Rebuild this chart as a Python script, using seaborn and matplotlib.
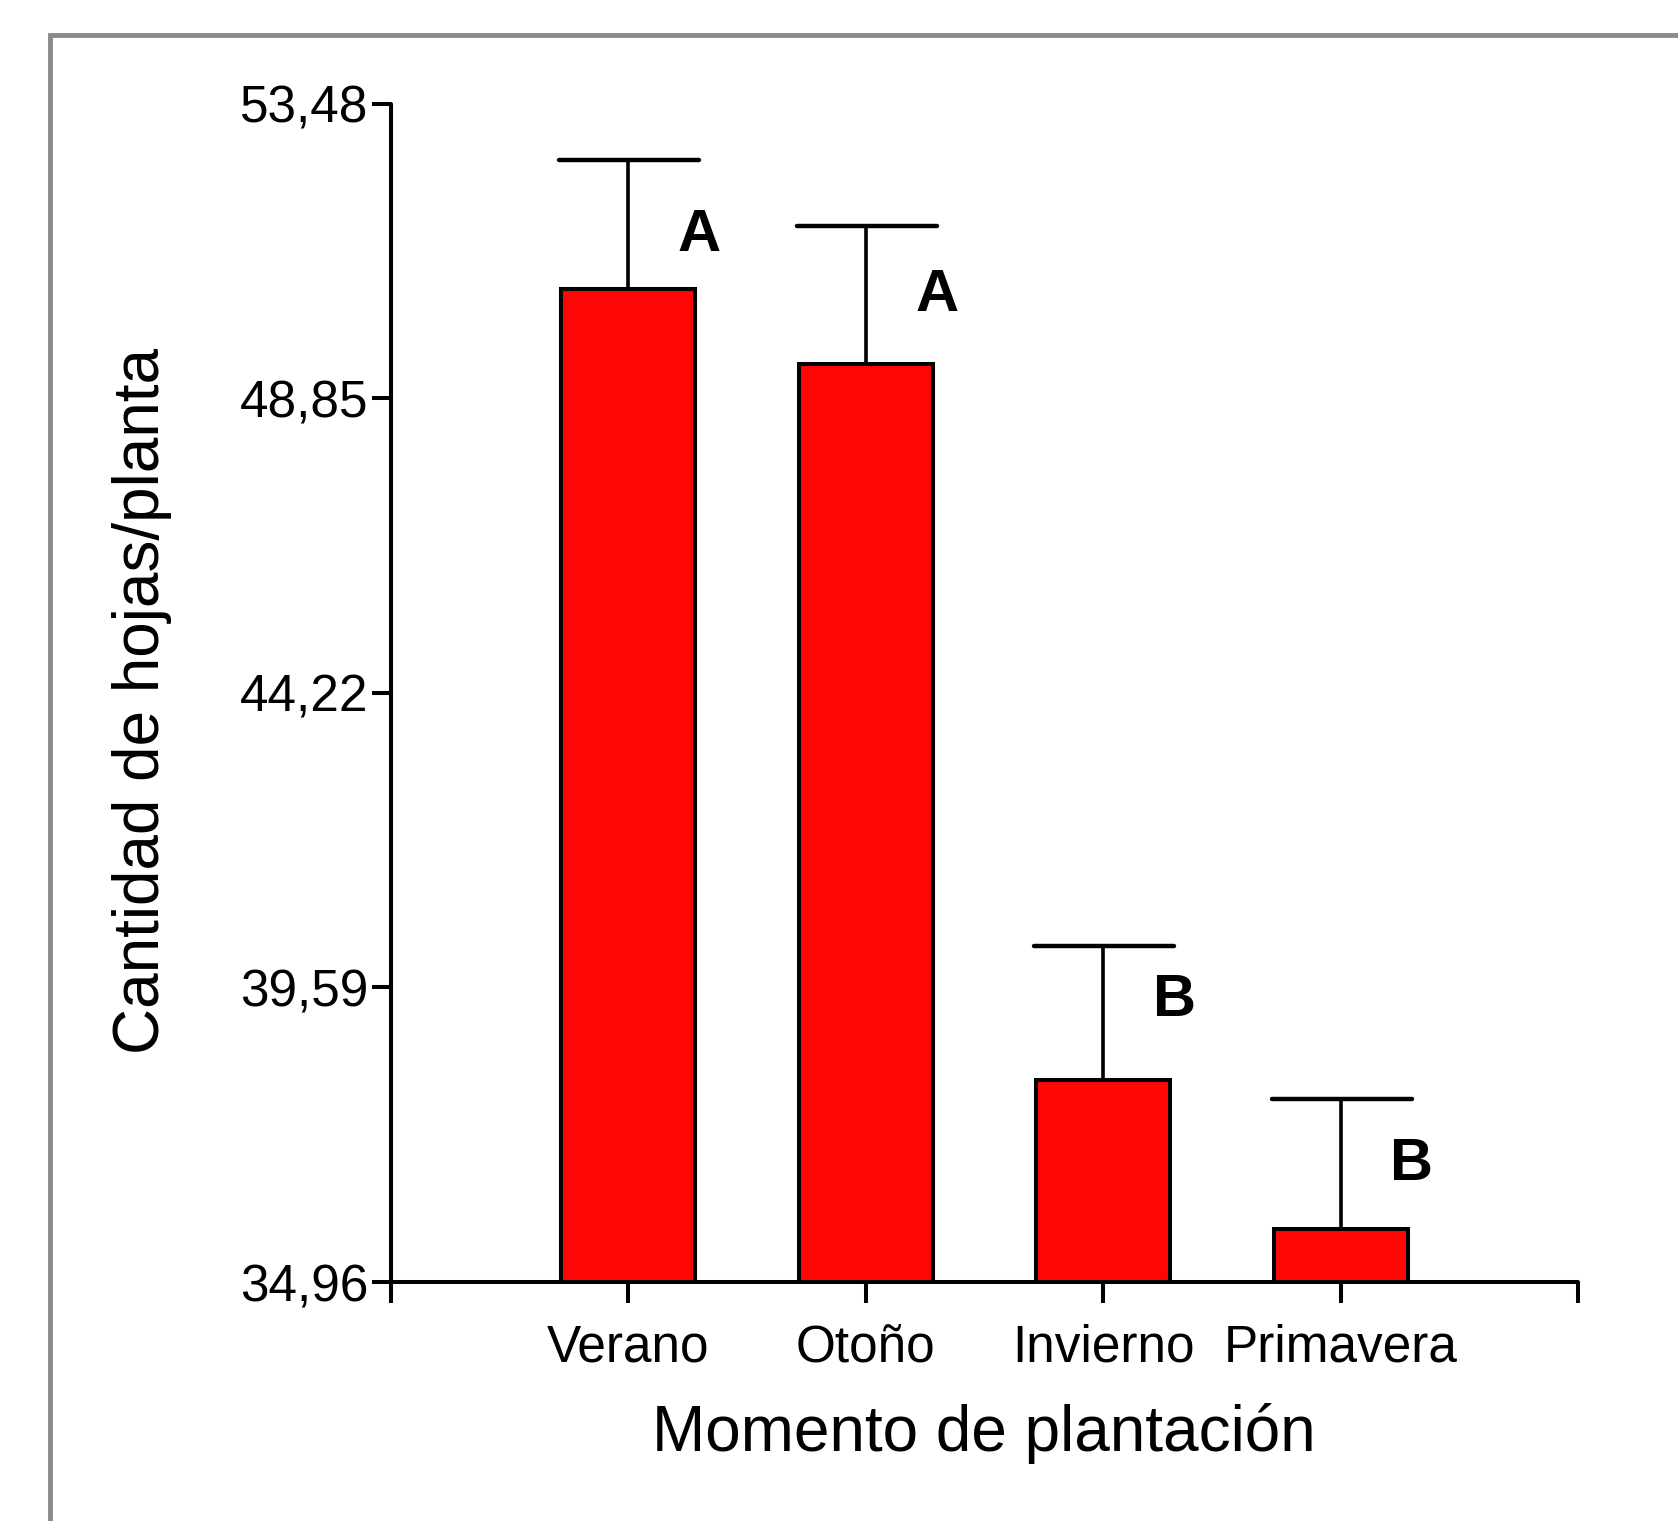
"""Bar chart: number of leaves per plant by planting season."""

import matplotlib

matplotlib.use("Agg")
import matplotlib.pyplot as plt  # noqa: E402
import seaborn as sns  # noqa: E402
from matplotlib.patches import Rectangle  # noqa: E402

sns.set_style("ticks")
plt.rcParams["font.family"] = ["Liberation Sans", "DejaVu Sans"]
plt.rcParams["text.color"] = "black"
plt.rcParams["xtick.color"] = "black"
plt.rcParams["ytick.color"] = "black"

SEASONS = ["Verano", "Otoño", "Invierno", "Primavera"]
MEANS = [50.57, 49.39, 38.14, 35.80]
ERRORS = [2.02, 2.17, 2.10, 2.04]
LETTERS = ["A", "A", "B", "B"]
LETTER_Y = [51.41, 50.47, 39.38, 36.81]
Y_TICKS = [34.96, 39.59, 44.22, 48.85, 53.48]

BAR_COLOR = "#fe0606"
LW = 2.9

fig = plt.figure(figsize=(16.78, 15.21), dpi=100)
ax = fig.add_axes([0.2328, 0.1571, 0.7077, 0.7747])

sns.barplot(
    x=SEASONS,
    y=MEANS,
    color=BAR_COLOR,
    saturation=1,
    edgecolor="black",
    linewidth=LW,
    width=0.565,
    ax=ax,
)

xs = list(range(len(SEASONS)))
tops = [m + e for m, e in zip(MEANS, ERRORS)]
ax.vlines(xs, MEANS, tops, color="black", linewidth=LW * 0.9, zorder=3)
caps = ax.hlines(
    tops,
    [x - 0.29 for x in xs],
    [x + 0.30 for x in xs],
    color="black",
    linewidth=LW * 1.1,
    zorder=3,
)
caps.set_capstyle("round")

for x, letter, ly in zip(xs, LETTERS, LETTER_Y):
    ax.text(x + 0.30, ly, letter, ha="center", va="center",
            fontsize=43, fontweight="bold", color="black")

ax.set_xlim(-1, 4)
ax.set_ylim(Y_TICKS[0], Y_TICKS[-1])
ax.set_xticks([-1, 0, 1, 2, 3, 4])
ax.set_xticklabels([""] + SEASONS + [""])
ax.set_yticks(Y_TICKS)
ax.set_yticklabels([f"{v:.2f}".replace(".", ",") for v in Y_TICKS])

ax.tick_params(axis="x", length=15, width=LW, pad=15, labelsize=37,
               color="black", labelcolor="black")
ax.tick_params(axis="y", length=14, width=LW, pad=2, labelsize=37,
               color="black", labelcolor="black")

for side in ["top", "right"]:
    ax.spines[side].set_visible(False)
for side in ["left", "bottom"]:
    ax.spines[side].set_linewidth(LW)
    ax.spines[side].set_color("black")
    ax.spines[side].set_capstyle("round")

ax.set_xlabel("")
ax.set_ylabel("")
fig.text(0.5865, 1 - 1434 / 1521, "Momento de plantación",
         ha="center", va="center", fontsize=46, color="black")
fig.text(142 / 1678, 1 - 701 / 1521, "Cantidad de hojas/planta",
         ha="center", va="center", rotation=90, fontsize=46, color="black")

# grey page frame, cropped on the right and bottom
fig.patches.append(Rectangle((0.030, -0.2), 1.2, 0.9768 + 0.2,
                             transform=fig.transFigure, fill=False,
                             edgecolor="#8a8a8a", linewidth=3.5))

fig.savefig("out.png", dpi=100)
plt.close(fig)
